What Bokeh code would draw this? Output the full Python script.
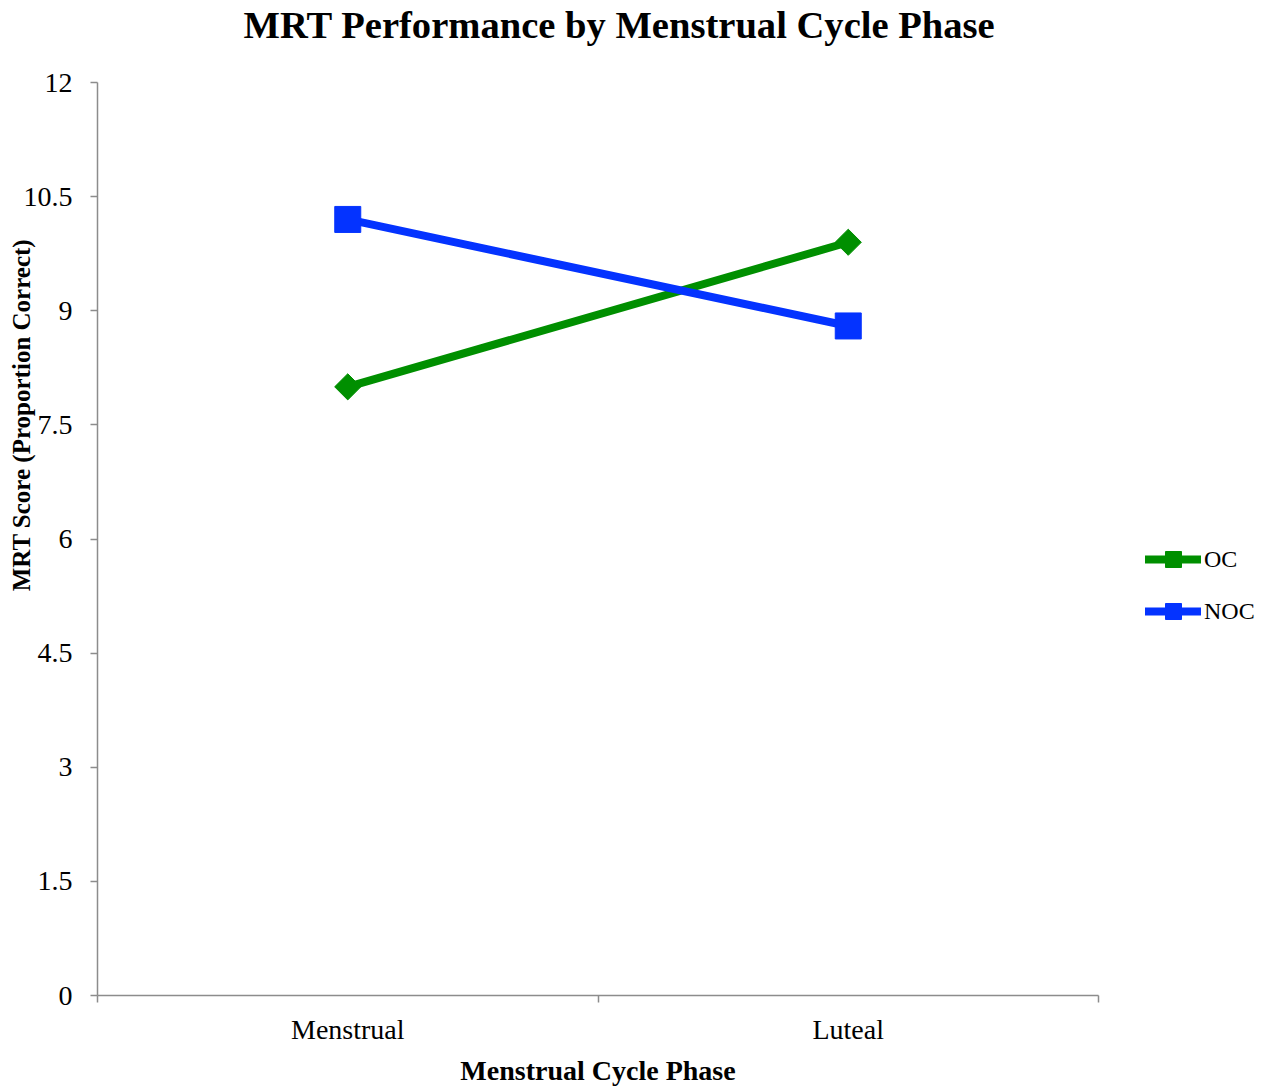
import math
from bokeh.plotting import figure
from bokeh.models import Range1d, FixedTicker, Legend, LegendItem, LinearAxis
from bokeh.embed import file_html
from bokeh.resources import INLINE

categories = ["Menstrual", "Luteal"]
oc_values = [8.0, 9.9]
noc_values = [10.2, 8.8]
y_ticks = [0, 1.5, 3, 4.5, 6, 7.5, 9, 10.5, 12]
y_tick_labels = ["0", "1.5", "3", "4.5", "6", "7.5", "9", "10.5", "12"]
title_text = "MRT Performance by Menstrual Cycle Phase"
x_title = "Menstrual Cycle Phase"
y_title = "MRT Score (Proportion Correct)"

FONT = "Liberation Serif"
GREEN = "#008F00"
BLUE = "#0433FF"
AXIS = "#8C8C8C"

xs = [i + 0.5 for i in range(len(categories))]
n_cat = len(categories)

W, H = 1272, 1088
LEFT, TOP, BOTTOM = 97, 82, 92
frame_w = W - LEFT
frame_h = H - TOP - BOTTOM
cat_px = 1001.0 / n_cat
x_end = frame_w / cat_px
y_px = 12.0 / frame_h

# anchor positions of the text blocks (in data units)
title_x = (619 - LEFT) / cat_px
ytitle_y = (996 - 415) * y_px


def bare_axis(axis, tick, text, size, bold, standoff, orientation=None):
    axis.ticker = FixedTicker(ticks=[tick], minor_ticks=[])
    axis.major_label_overrides = {tick: text}
    axis.major_label_text_font = FONT
    axis.major_label_text_font_size = size
    axis.major_label_text_font_style = "bold" if bold else "normal"
    axis.major_label_text_color = "#000000"
    axis.major_label_standoff = standoff
    axis.major_tick_out = 0
    axis.major_tick_in = 0
    axis.minor_tick_out = 0
    axis.minor_tick_in = 0
    axis.major_tick_line_color = None
    axis.minor_tick_line_color = None
    axis.axis_line_color = None
    if orientation is not None:
        axis.major_label_orientation = orientation


p = figure(width=W, height=H, output_backend="svg", toolbar_location=None,
           x_range=Range1d(0, x_end), y_range=Range1d(0, 12),
           min_border_left=LEFT, min_border_right=0, min_border_top=TOP, min_border_bottom=BOTTOM)
p.outline_line_color = None
p.xgrid.visible = False
p.ygrid.visible = False
p.title.text = ""

yax = p.yaxis[0]
yax.ticker = FixedTicker(ticks=y_ticks, minor_ticks=[])
yax.major_label_overrides = {t: l for t, l in zip(y_ticks, y_tick_labels)}
yax.major_label_text_font = FONT
yax.major_label_text_font_size = "28px"
yax.major_label_text_color = "#000000"
yax.major_label_standoff = 18
yax.major_tick_out = 7
yax.major_tick_in = 0
yax.axis_line_color = AXIS
yax.major_tick_line_color = AXIS
yax.axis_line_width = 1.5
yax.major_tick_line_width = 1.5

xax = p.xaxis[0]
xax.bounds = (0, n_cat)
xax.ticker = FixedTicker(ticks=xs, minor_ticks=list(range(n_cat + 1)))
xax.major_label_overrides = {x: c for x, c in zip(xs, categories)}
xax.major_label_text_font = FONT
xax.major_label_text_font_size = "28px"
xax.major_label_text_color = "#000000"
xax.major_label_standoff = 11
xax.major_tick_out = 0
xax.major_tick_in = 0
xax.major_tick_line_color = None
xax.minor_tick_out = 7
xax.minor_tick_in = 0
xax.minor_tick_line_color = AXIS
xax.minor_tick_line_width = 1.5
xax.axis_line_color = AXIS
xax.axis_line_width = 1.5

# chart title, x-axis title and y-axis title as labels of bare extra axes
top_ax = LinearAxis()
bare_axis(top_ax, title_x, title_text, "38.6px", True, 37)
p.add_layout(top_ax, "above")

xt_ax = LinearAxis()
bare_axis(xt_ax, n_cat / 2.0, x_title, "28px", True, 7)
p.add_layout(xt_ax, "below")

yt_ax = LinearAxis()
bare_axis(yt_ax, ytitle_y, y_title, "25px", True, -15, orientation="vertical")
p.add_layout(yt_ax, "left")

l_oc = p.line(xs, oc_values, line_color=GREEN, line_width=8, line_cap="round")
s_oc = p.scatter(xs, oc_values, marker="square", size=18.5, angle=math.pi / 4,
                 fill_color=GREEN, line_color=GREEN)
l_noc = p.line(xs, noc_values, line_color=BLUE, line_width=8, line_cap="round")
s_noc = p.scatter(xs, noc_values, marker="square", size=26, fill_color=BLUE, line_color=BLUE)

legend = Legend(items=[LegendItem(label="OC", renderers=[l_oc, s_oc]),
                       LegendItem(label="NOC", renderers=[l_noc, s_noc])],
                location=(1048, 364))
legend.margin = 0
legend.padding = 0
legend.border_line_alpha = 0
legend.background_fill_alpha = 0
legend.glyph_width = 56
legend.glyph_height = 40
legend.label_standoff = 3
legend.spacing = 12
legend.label_text_font = FONT
legend.label_text_font_size = "24px"
legend.label_text_color = "#000000"
p.add_layout(legend, "center")

open("out.html", "w").write(file_html(p, INLINE))
